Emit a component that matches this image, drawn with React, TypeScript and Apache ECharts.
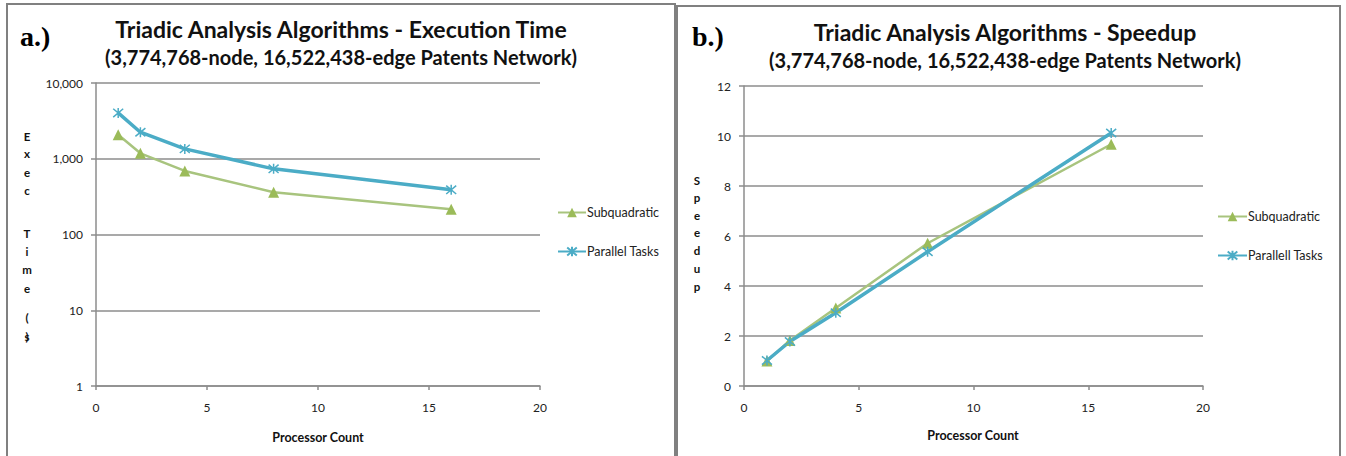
import React, { useEffect, useRef } from 'react';
import * as echarts from 'echarts';

const processors = [1, 2, 4, 8, 16];
const execSubquadratic = [2070, 1180, 690, 362, 216];
const execParallel = [4030, 2240, 1350, 736, 389];
const speedupSubquadratic = [1.0, 1.82, 3.12, 5.71, 9.67];
const speedupParallel = [1.02, 1.78, 2.93, 5.37, 10.12];

const seriesNamesA = ['Subquadratic', 'Parallel Tasks'];
const seriesNamesB = ['Subquadratic', 'Parallell Tasks'];

const titleA = 'Triadic Analysis Algorithms - Execution Time';
const titleB = 'Triadic Analysis Algorithms - Speedup';
const subtitle = '(3,774,768-node, 16,522,438-edge Patents Network)';
const xAxisName = 'Processor Count';
const yNameA = ['E', 'x', 'e', 'c', 'T', 'i', 'm', 'e', '(', 's', ')'];
const yNameB = ['S', 'p', 'e', 'e', 'd', 'u', 'p'];

const FONT = 'Lato, "Open Sans", sans-serif';
const GRID_COLOR = '#8c8c8c';
const GREEN = '#9bbb59';
const GREEN_LINE = '#a8c47e';
const BLUE = '#4bacc6';
const STAR = 'path://M0,0L10,10M10,0L0,10M5,-1L5,11';

export default function App() {
  const ref = useRef<HTMLDivElement>(null);
  useEffect(() => {
    if (!ref.current) return;
    const chart = echarts.init(ref.current, null, { renderer: 'svg' });

    const pairs = (ys: number[]) => processors.map((x, i) => [x, ys[i]]);

    const xAxisCommon = {
      type: 'value' as const,
      min: 0,
      max: 20,
      interval: 5,
      axisLine: { show: true, lineStyle: { color: GRID_COLOR, width: 1.5 } },
      axisTick: { show: true, length: 4, lineStyle: { color: GRID_COLOR, width: 1.5 } },
      axisLabel: { margin: 15, fontSize: 12, color: '#222', fontFamily: FONT },
      splitLine: { show: false },
    };
    const yAxisCommon = {
      axisLine: { show: true, lineStyle: { color: GRID_COLOR, width: 1.5 } },
      axisTick: { show: true, length: 5, lineStyle: { color: GRID_COLOR, width: 1.5 } },
      splitLine: { show: true, lineStyle: { color: GRID_COLOR, width: 1.5 } },
    };

    const letterTexts = (letters: string[], x: number, ys: number[]) =>
      letters.map((ch, i) => ({
        type: 'text',
        x,
        y: ys[i],
        style: {
          text: ch,
          font: `bold 11.5px ${FONT}`,
          fill: '#111',
          align: 'center',
          verticalAlign: 'middle',
        },
      }));

    const yLettersA = [136, 153, 172.5, 190.5, 233, 251.5, 269.5, 288, 317.5, 336, 336];
    const yLettersB = [180, 197.5, 215, 232.5, 250, 268.5, 286.5];

    const titleStyle = { fontSize: 23, fontWeight: 'bold', color: '#111', fontFamily: FONT };
    const subStyle = { fontSize: 20, fontWeight: 'bold', color: '#111', fontFamily: FONT };

    const option: any = {
      animation: false,
      textStyle: { fontFamily: FONT },
      title: [
        {
          text: titleA,
          subtext: subtitle,
          left: 341,
          top: 17,
          padding: 0,
          textAlign: 'center',
          itemGap: 7,
          textStyle: titleStyle,
          subtextStyle: subStyle,
        },
        {
          text: titleB,
          subtext: subtitle,
          left: 1005,
          top: 20,
          padding: 0,
          textAlign: 'center',
          itemGap: 7,
          textStyle: titleStyle,
          subtextStyle: subStyle,
        },
      ],
      grid: [
        { left: 96, top: 83, width: 444, height: 303 },
        { left: 744, top: 86, width: 459, height: 300 },
      ],
      xAxis: [
        { ...xAxisCommon, gridIndex: 0 },
        { ...xAxisCommon, gridIndex: 1 },
      ],
      yAxis: [
        {
          ...yAxisCommon,
          gridIndex: 0,
          type: 'log',
          logBase: 10,
          min: 1,
          max: 10000,
          axisLabel: {
            margin: 13,
            fontSize: 12,
            color: '#222',
            fontFamily: FONT,
            formatter: (v: number) => Math.round(v).toLocaleString('en-US'),
          },
        },
        {
          ...yAxisCommon,
          gridIndex: 1,
          type: 'value',
          min: 0,
          max: 12,
          interval: 2,
          axisLabel: { margin: 13, fontSize: 12, color: '#222', fontFamily: FONT },
        },
      ],
      legend: [
        {
          data: seriesNamesA,
          orient: 'vertical',
          left: 557,
          top: 206,
          padding: 0,
          itemWidth: 28,
          itemHeight: 12,
          itemGap: 26,
          textStyle: { fontSize: 12.5, color: '#222', fontFamily: FONT, padding: [0, 0, 0, -4] },
        },
        {
          data: seriesNamesB,
          orient: 'vertical',
          left: 1217,
          top: 210,
          padding: 0,
          itemWidth: 29,
          itemHeight: 12,
          itemGap: 26,
          textStyle: { fontSize: 12.5, color: '#222', fontFamily: FONT, padding: [0, 0, 0, -4] },
        },
      ],
      series: [
        {
          name: seriesNamesA[0],
          type: 'line',
          xAxisIndex: 0,
          yAxisIndex: 0,
          data: pairs(execSubquadratic),
          symbol: 'triangle',
          symbolSize: 11,
          lineStyle: { color: GREEN_LINE, width: 2.5 },
          itemStyle: { color: GREEN },
        },
        {
          name: seriesNamesA[1],
          type: 'line',
          xAxisIndex: 0,
          yAxisIndex: 0,
          data: pairs(execParallel),
          symbol: STAR,
          symbolSize: 10,
          lineStyle: { color: BLUE, width: 3.5 },
          itemStyle: { color: BLUE, borderColor: BLUE, borderWidth: 1.5 },
        },
        {
          name: seriesNamesB[0],
          type: 'line',
          xAxisIndex: 1,
          yAxisIndex: 1,
          data: pairs(speedupSubquadratic),
          symbol: 'triangle',
          symbolSize: 11,
          lineStyle: { color: GREEN_LINE, width: 2.5 },
          itemStyle: { color: GREEN },
        },
        {
          name: seriesNamesB[1],
          type: 'line',
          xAxisIndex: 1,
          yAxisIndex: 1,
          data: pairs(speedupParallel),
          symbol: STAR,
          symbolSize: 10,
          lineStyle: { color: BLUE, width: 3.5 },
          itemStyle: { color: BLUE, borderColor: BLUE, borderWidth: 1.5 },
        },
      ],
      graphic: [
        {
          type: 'rect',
          shape: { x: 7, y: 4, width: 668, height: 480 },
          style: { fill: 'none', stroke: '#808080', lineWidth: 2 },
          silent: true,
        },
        {
          type: 'rect',
          shape: { x: 677, y: 6, width: 663, height: 480 },
          style: { fill: 'none', stroke: '#808080', lineWidth: 2 },
          silent: true,
        },
        {
          type: 'text',
          x: 20,
          y: 36,
          style: {
            text: 'a.)',
            font: 'bold 28px "Liberation Serif", "DejaVu Serif", serif',
            fill: '#000',
            verticalAlign: 'middle',
          },
        },
        {
          type: 'text',
          x: 692,
          y: 36,
          style: {
            text: 'b.)',
            font: 'bold 28px "Liberation Serif", "DejaVu Serif", serif',
            fill: '#000',
            verticalAlign: 'middle',
          },
        },
        {
          type: 'text',
          x: 318,
          y: 437,
          style: {
            text: xAxisName,
            font: `bold 12.5px ${FONT}`,
            fill: '#111',
            align: 'center',
            verticalAlign: 'middle',
          },
        },
        {
          type: 'text',
          x: 973,
          y: 435,
          style: {
            text: xAxisName,
            font: `bold 12.5px ${FONT}`,
            fill: '#111',
            align: 'center',
            verticalAlign: 'middle',
          },
        },
        ...letterTexts(yNameA, 27, yLettersA),
        ...letterTexts(yNameB, 697, yLettersB),
      ],
    };

    chart.setOption(option);
    return () => chart.dispose();
  }, []);

  return (
    <div
      ref={ref}
      style={{ position: 'absolute', left: 0, top: 0, width: 1346, height: 456, background: '#fff' }}
    />
  );
}
